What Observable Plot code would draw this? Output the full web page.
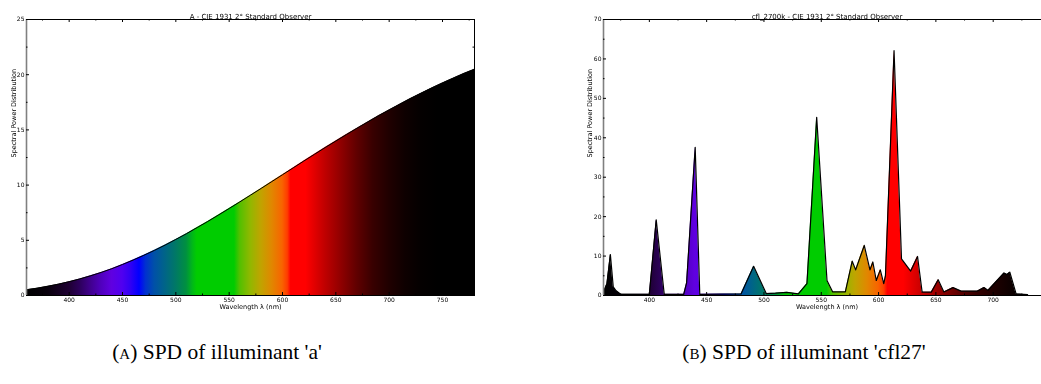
<!DOCTYPE html>
<html><head><meta charset="utf-8">
<script src="https://cdn.jsdelivr.net/npm/d3@7"></script>
<script src="https://cdn.jsdelivr.net/npm/@observablehq/plot@0.6"></script>
<style>
html,body{margin:0;padding:0;background:#fff;overflow:hidden;width:1041px;height:384px;}
#wrap{position:relative;width:1041px;height:384px;overflow:hidden;background:#fff;}
.panel{position:absolute;top:0;will-change:transform;}
.panel svg{max-width:none !important;}
.cap{position:absolute;top:341px;line-height:22px;font-family:"Liberation Serif","DejaVu Serif",serif;font-size:21.5px;color:#000;white-space:nowrap;transform:translateX(-50%);}
.sc{font-variant:small-caps;}
</style></head><body><div id="wrap"></div>
<script>
// ---- data: illuminant A ----
const aWavelengths = [360,370,380,390,400,410,420,430,440,450,460,470,480,490,500,510,520,530,540,550,560,570,580,590,600,610,620,630,640,650,660,670,680,690,700,710,720,730,740,750,760,770,780];
const aValues = [0.52,0.66,0.83,1.03,1.25,1.50,1.78,2.09,2.43,2.81,3.21,3.64,4.09,4.57,5.08,5.60,6.15,6.71,7.29,7.88,8.48,9.09,9.70,10.32,10.94,11.56,12.18,12.79,13.40,13.99,14.58,15.16,15.72,16.28,16.81,17.33,17.84,18.33,18.80,19.25,19.68,20.10,20.49];
// ---- data: CFL 2700K ----
const cflWavelengths = [360,363,366,368.5,371,375,400,406,413,430,432.5,440,444,480,491,502,510,520,530,537.5,546,555,560,571,577,580,587.5,592.5,595,598,601.5,604.5,606,613.5,620,628,634,638,646,652,657,665,672,686,692,695.5,709.5,712,714.5,720,730];
const cflValues = [0.8,3.0,10.4,2.2,1.2,0.3,0.3,19.2,0.3,0.3,3.2,37.6,0.3,0.4,7.4,0.5,0.6,0.8,0.4,3.0,45.2,3.8,0.9,0.9,8.7,6.5,12.7,6.5,8.5,3.8,6.5,3.0,5.0,62.1,9.3,6.2,9.9,0.85,0.85,4.0,0.9,2.0,1.1,1.1,2.0,1.3,5.7,5.3,5.9,0.4,0.2];
// ---- spectral colour of each wavelength ----
const spectrumNm = [360,380,400,410,420,430,440,450,458,466,472,480,490,500,510,516,520,555,560,570,580,590,600,605,608,622,640,655,670,685,700,715,730,745,780];
const spectrumColors = ["#000000","#08000c","#1e0032","#2c005a","#40008c","#5000bc","#6000e0","#5000f0","#3000f4","#0000ff","#0030d0","#0050a8","#006488","#007866","#009040","#00b818","#00cc00","#00cc00","#50c000","#90b800","#c0a400","#e08800","#f86400","#ff3c00","#ff0000","#ff0000","#c00000","#900000","#600000","#380000","#200000","#0e0000","#040000","#000000","#000000"];
// ---- ticks ----
const aXTicks = [400,450,500,550,600,650,700,750];
const aXMinor = [375,425,475,525,575,625,675,725,775];
const aYTicks = [0,5,10,15,20,25];
const aYMinor = [2.5,7.5,12.5,17.5,22.5];
const cflXTicks = [400,450,500,550,600,650,700];
const cflXMinor = [375,425,475,525,575,625,675,725];
const cflYTicks = [0,10,20,30,40,50,60,70];
const cflYMinor = [5,15,25,35,45,55,65];
// ---- texts ----
const titles = ["A - CIE 1931 2\u00b0 Standard Observer", "cfl_2700k - CIE 1931 2\u00b0 Standard Observer"];
const xLabel = "Wavelength \u03bb (nm)";
const yLabel = "Spectral Power Distribution";
const captionLetters = ["a", "b"];
const captionTexts = ["SPD of illuminant 'a'", "SPD of illuminant 'cfl27'"];

const H = 320, MT = 19, MB = 25;

function panel(o) {
  const data = o.xs.map((x, i) => ({x, y: o.ys[i]}));
  const PW = o.width - o.marginLeft - o.marginRight;
  const PH = H - MT - MB;
  const gid = "spec-" + o.id;
  const chart = Plot.plot({
    width: o.width, height: H,
    marginLeft: o.marginLeft, marginRight: o.marginRight, marginTop: MT, marginBottom: MB,
    style: {fontFamily: "DejaVu Sans", color: "#000", background: "transparent", overflow: "visible", maxWidth: "none"},
    x: {domain: o.xDomain},
    y: {domain: o.yDomain},
    marks: [
      Plot.areaY(data, {x: "x", y: "y", fill: `url(#${gid})`}),
      Plot.lineY(data, {x: "x", y: "y", stroke: "#000", strokeWidth: o.lw}),
      Plot.frame({stroke: "#000", strokeWidth: 1}),
      Plot.ruleX([o.xDomain[0]], {stroke: "#808080", strokeWidth: 1.6}),
      Plot.tickX(o.xTicks, {x: d => d, insetBottom: PH - 3, stroke: "#000"}),
      Plot.tickX(o.xTicks, {x: d => d, insetTop: PH - 3, stroke: "#000"}),
      Plot.tickX(o.xMinor, {x: d => d, insetBottom: PH - 1.5, stroke: "#000"}),
      Plot.tickX(o.xMinor, {x: d => d, insetTop: PH - 1.5, stroke: "#000"}),
      Plot.tickY(o.yTicks, {y: d => d, insetRight: PW - 3, stroke: "#000"}),
      Plot.tickY(o.yTicks, {y: d => d, insetLeft: PW - 3, stroke: "#000"}),
      Plot.tickY(o.yMinor, {y: d => d, insetRight: PW - 1.5, stroke: "#000"}),
      Plot.tickY(o.yMinor, {y: d => d, insetLeft: PW - 1.5, stroke: "#000"}),
      Plot.axisX(o.xTicks, {tickSize: 0, tickPadding: 2, fontSize: 6, label: null}),
      Plot.axisY(o.yTicks, {tickSize: 0, tickPadding: 2, fontSize: 6, label: null}),
      Plot.text([o.title], {text: d => d, frameAnchor: "top", dy: -5, fontSize: 7}),
      Plot.text([xLabel], {text: d => d, frameAnchor: "bottom", dy: 13.5, fontSize: 6.5}),
      Plot.text([yLabel], {text: d => d, frameAnchor: "left", dx: o.yLabelDx, rotate: -90, fontSize: 6.5})
    ]
  });
  const xs = chart.scale("x");
  const n0 = spectrumNm[0], n1 = spectrumNm[spectrumNm.length - 1];
  const svg = d3.select(chart.tagName.toLowerCase() === "svg" ? chart : chart.querySelector("svg"));
  svg.style("max-width", "none");
  const grad = svg.insert("defs", ":first-child").append("linearGradient")
    .attr("id", gid).attr("gradientUnits", "userSpaceOnUse")
    .attr("x1", xs.apply(n0)).attr("x2", xs.apply(n1)).attr("y1", 0).attr("y2", 0);
  spectrumNm.forEach((nm, i) => {
    grad.append("stop").attr("offset", (nm - n0) / (n1 - n0)).attr("stop-color", spectrumColors[i]);
  });
  const div = document.createElement("div");
  div.className = "panel";
  div.style.left = o.left + "px";
  div.style.width = o.width + "px";
  div.appendChild(chart);
  document.getElementById("wrap").appendChild(div);
}

panel({id: "a", left: 0, width: 480, marginLeft: 26, marginRight: 6, xs: aWavelengths, ys: aValues,
  xDomain: [360, 780], yDomain: [0, 25], xTicks: aXTicks, xMinor: aXMinor, yTicks: aYTicks, yMinor: aYMinor,
  title: titles[0], yLabelDx: -13, lw: 1});
panel({id: "cfl", left: 560, width: 492, marginLeft: 43, marginRight: 2, xs: cflWavelengths, ys: cflValues,
  xDomain: [360, 750], yDomain: [0, 70], xTicks: cflXTicks, xMinor: cflXMinor, yTicks: cflYTicks, yMinor: cflYMinor,
  title: titles[1], yLabelDx: -14, lw: 1.2});

const capCenters = [217, 804];
captionTexts.forEach((t, i) => {
  const c = document.createElement("div");
  c.className = "cap";
  c.style.left = capCenters[i] + "px";
  const sc = document.createElement("span");
  sc.className = "sc";
  sc.textContent = captionLetters[i];
  c.append("(", sc, ") " + t);
  document.getElementById("wrap").appendChild(c);
});
</script>
</body></html>
